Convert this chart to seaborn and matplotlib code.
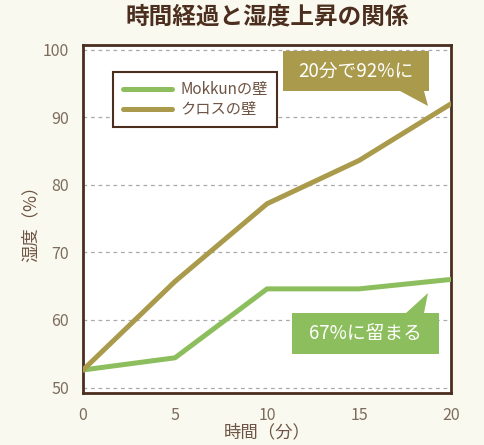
import matplotlib
matplotlib.use('Agg')
import matplotlib.pyplot as plt
import seaborn as sns
import pandas as pd
from matplotlib.patches import Polygon

# data
minutes = [0, 5, 10, 15, 20]
mokkun = [52.6, 54.4, 64.6, 64.6, 66.0]
cloth = [52.6, 65.7, 77.2, 83.6, 92.0]
series_names = ['Mokkunの壁', 'クロスの壁']
xticks = [0, 5, 10, 15, 20]
yticks = [50, 60, 70, 80, 90, 100]

green = '#8dbe5e'
olive = '#aa9a4b'
brown = '#4b2e1e'
tick_col = '#7d6c5c'
bg = '#f9f9ef'

df = pd.DataFrame({
    '時間': minutes * 2,
    '湿度': mokkun + cloth,
    '壁': [series_names[0]] * len(minutes) + [series_names[1]] * len(minutes),
})

sns.set_style('white')
plt.rcParams['font.family'] = ['Noto Sans CJK JP', 'DejaVu Sans']

fig = plt.figure(figsize=(4.84, 4.45), dpi=100, facecolor=bg)
ax = fig.add_axes([0.1715, 0.117, 0.7605, 0.782])
ax.set_facecolor('white')

sns.lineplot(data=df, x='時間', y='湿度', hue='壁', palette=[green, olive],
             linewidth=3.6, ax=ax, zorder=3)

ax.set_xlim(0, 20)
ax.set_ylim(49.2, 100.7)
ax.set_xticks(xticks)
ax.set_yticks(yticks)
ax.yaxis.grid(True, linestyle=(0, (3, 3)), color='#aaaaaa', linewidth=0.9)
ax.set_axisbelow(True)

for s in ax.spines.values():
    s.set_color(brown)
    s.set_linewidth(2)
ax.tick_params(axis='both', colors=brown, length=6, width=1.6, direction='out',
               labelsize=11.5, labelcolor=tick_col, pad=4)

ax.set_xlabel('時間（分）', color='#6e5444', fontsize=12.5, labelpad=0)
ax.set_ylabel('湿度（%）', color='#6e5444', fontsize=12.5, labelpad=2)
fig.suptitle('時間経過と湿度上昇の関係', x=0.552, y=0.99, fontsize=17,
             fontweight='bold', color=brown)

leg = ax.legend(loc='upper left', bbox_to_anchor=(0.062, 0.945), fancybox=False,
                framealpha=1, edgecolor=brown, fontsize=11, handlelength=3.2,
                borderpad=0.6, labelspacing=0.2, handletextpad=0.6, title=None)
leg.get_frame().set_linewidth(1.5)
for t in leg.get_texts():
    t.set_color('#6e5444')


def pix(pts):
    return [(x / 484, 1 - y / 445) for x, y in pts]


# callout boxes
box1 = Polygon(pix([(283, 51), (429, 51), (429, 91), (424, 91), (428, 106),
                    (400, 91), (283, 91)]), closed=True, transform=fig.transFigure,
               facecolor=olive, edgecolor='none', zorder=5)
fig.patches.append(box1)
fig.text(356 / 484, 1 - 71 / 445, '20分で92%に', color='white', fontsize=13.5,
         ha='center', va='center', zorder=6)

box2 = Polygon(pix([(292, 354), (439, 354), (439, 313), (424, 313), (428, 293),
                    (406, 313), (292, 313)]), closed=True, transform=fig.transFigure,
               facecolor=green, edgecolor='none', zorder=5)
fig.patches.append(box2)
fig.text(365 / 484, 1 - 334 / 445, '67%に留まる', color='white', fontsize=13.5,
         ha='center', va='center', zorder=6)

fig.savefig('out.png', dpi=100, facecolor=bg)
